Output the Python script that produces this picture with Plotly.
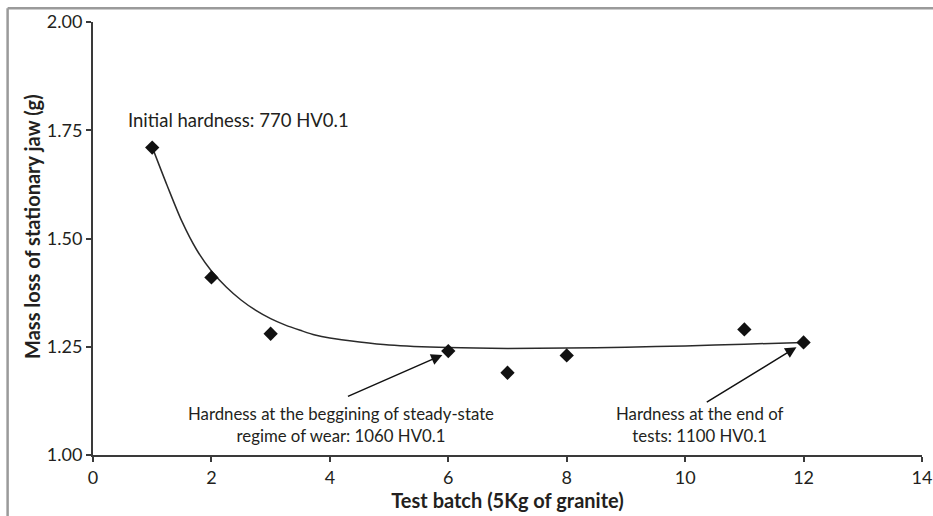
import plotly.graph_objects as go

# Measured data
batch = [1, 2, 3, 6, 7, 8, 11, 12]
mass_loss = [1.71, 1.41, 1.28, 1.24, 1.19, 1.23, 1.29, 1.26]

# Trend curve
trend_x = [1.0, 1.25, 1.5, 1.75, 2.0, 2.25, 2.5, 2.75, 3.0, 3.25, 3.5, 3.75, 4.0, 4.5, 5, 6, 7, 8, 9, 10, 11, 12]
trend_y = [1.711, 1.623, 1.540, 1.474, 1.425, 1.388, 1.358, 1.334, 1.315, 1.300, 1.288, 1.277, 1.270,
           1.261, 1.254, 1.248, 1.246, 1.247, 1.249, 1.252, 1.256, 1.26]

x_ticks = [0, 2, 4, 6, 8, 10, 12, 14]
y_ticks = [1.00, 1.25, 1.50, 1.75, 2.00]
y_tick_labels = ["1.00", "1.25", "1.50", "1.75", "2.00"]

FONT = "Lato"
TXT = "#231f20"
AX = "#3a3a3a"

fig = go.Figure()
fig.add_trace(go.Scatter(x=trend_x, y=trend_y, mode="lines",
                         line=dict(color="#2a2a2a", width=1.5, shape="spline", smoothing=0.8),
                         showlegend=False, hoverinfo="skip"))
fig.add_trace(go.Scatter(x=batch, y=mass_loss, mode="markers",
                         marker=dict(symbol="diamond", size=11, color="#111111"),
                         showlegend=False))

# Annotations
fig.add_annotation(x=2.45, y=1.774, text="Initial hardness: 770 HV0.1", showarrow=False,
                   font=dict(family=FONT, size=18.5, color=TXT))
fig.add_annotation(x=4.18, y=1.07, text="Hardness at the beggining of steady-state<br>regime of wear: 1060 HV0.1",
                   showarrow=False, font=dict(family=FONT, size=16.8, color=TXT), align="center")
fig.add_annotation(x=10.24, y=1.07, text="Hardness at the end of<br>tests: 1100 HV0.1",
                   showarrow=False, font=dict(family=FONT, size=16.8, color=TXT), align="center")
# Arrows
fig.add_annotation(x=5.9, y=1.231, ax=4.28, ay=1.134, xref="x", yref="y", axref="x", ayref="y",
                   text="", showarrow=True, arrowhead=2, arrowsize=1.5, arrowwidth=1.5, arrowcolor="#111111")
fig.add_annotation(x=11.88, y=1.249, ax=10.34, ay=1.12, xref="x", yref="y", axref="x", ayref="y",
                   text="", showarrow=True, arrowhead=2, arrowsize=1.5, arrowwidth=1.5, arrowcolor="#111111")

# Y-axis title as rotated annotation
fig.add_annotation(xref="paper", yref="paper", x=-0.0736, y=0.529, textangle=-90,
                   text="<b>Mass loss of stationary jaw (g)</b>", showarrow=False,
                   xanchor="center", yanchor="middle", font=dict(family=FONT, size=20, color=TXT))

# Outer frame (top and left gray edges)
fig.add_shape(type="line", xref="paper", yref="paper", x0=-0.103, x1=1.03, y0=1.032, y1=1.032,
              line=dict(color="#9a9a9a", width=2.5))
fig.add_shape(type="line", xref="paper", yref="paper", x0=-0.103, x1=-0.103, y0=1.032, y1=-0.15,
              line=dict(color="#9a9a9a", width=2.5))

fig.update_layout(
    width=933, height=516,
    margin=dict(l=93, r=11, t=22, b=61),
    paper_bgcolor="white", plot_bgcolor="white",
    font=dict(family=FONT, color=TXT),
    xaxis=dict(range=[0, 14], tickvals=x_ticks, showgrid=False, zeroline=False, automargin=False,
               showline=True, linecolor=AX, linewidth=2, ticks="outside", ticklen=5,
               tickcolor=AX, tickwidth=1.5, tickfont=dict(family=FONT, size=18, color=TXT),
               title=dict(text="<b>Test batch (5Kg of granite)</b>", font=dict(family=FONT, size=20, color=TXT),
                          standoff=6)),
    yaxis=dict(range=[1.0, 2.0], tickvals=y_ticks, ticktext=y_tick_labels, showgrid=False, zeroline=False,
               automargin=False,
               showline=True, linecolor=AX, linewidth=2, ticks="outside", ticklen=5,
               tickcolor=AX, tickwidth=1.5, tickfont=dict(family=FONT, size=18, color=TXT)),
)

fig.write_html("out.html")
